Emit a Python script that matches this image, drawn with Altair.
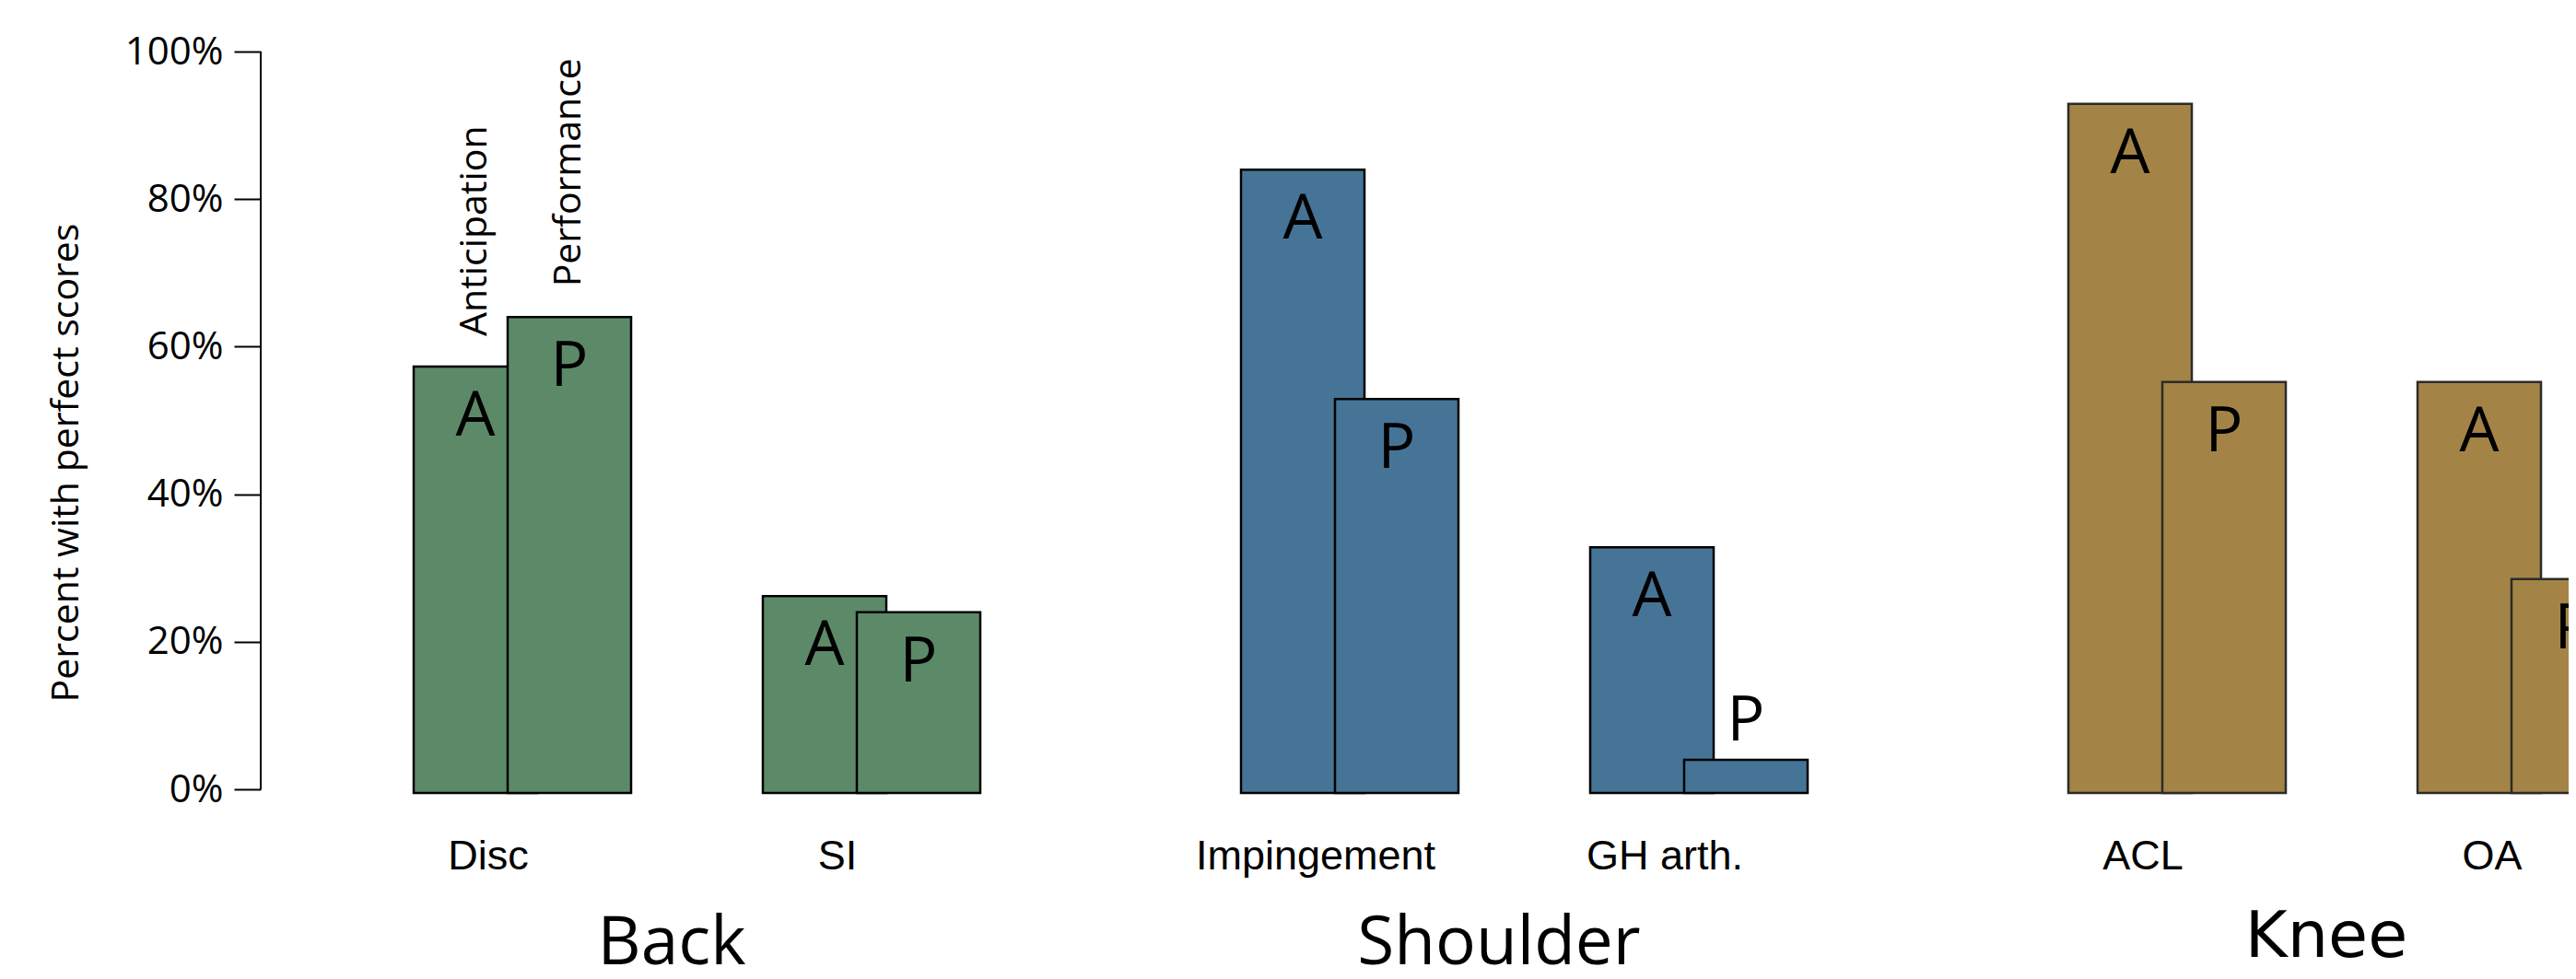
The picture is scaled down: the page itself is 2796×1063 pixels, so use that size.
import altair as alt
import pandas as pd

# ---------------- data ----------------
regions = ["Back", "Shoulder", "Knee"]
conditions = ["Disc", "SI", "Impingement", "GH arth.", "ACL", "OA"]
condition_region = ["Back", "Back", "Shoulder", "Shoulder", "Knee", "Knee"]
anticipation = [57.3, 26.2, 84.0, 32.8, 92.9, 55.2]
performance = [64.0, 24.0, 52.9, 4.0, 55.2, 28.5]
measures = ["Anticipation", "Performance"]
letters = ["A", "P"]
y_ticks = [0, 20, 40, 60, 80, 100]

# ---------------- styles ----------------
fills = ["#5C8A68", "#467497", "#A38446"]
strokes = ["#000000", "#000000", "#2B2B2B"]

# ---------------- layout ----------------
PLOT_W, PLOT_H = 2505, 1040
PAD_LEFT = 275
PX_PER_PCT = 8.01
ZERO_Y = 849
Y_MAX = ZERO_Y / PX_PER_PCT
Y_MIN = (ZERO_Y - PLOT_H) / PX_PER_PCT
FIRST_LEFT, GROUP_STEP, PAIR_STEP = 166, 898, 379
BAR_W, P_SHIFT = 134, 102

rows, labels = [], []
for i, cond in enumerate(conditions):
    g, c = divmod(i, 2)
    left = FIRST_LEFT + g * GROUP_STEP + c * PAIR_STEP
    for m, vals in enumerate([anticipation, performance]):
        x0 = left + m * P_SHIFT
        rows.append({
            "region": condition_region[i], "condition": cond,
            "measure": measures[m], "letter": letters[m],
            "value": vals[i], "x0": x0, "x1": x0 + BAR_W, "xc": x0 + BAR_W / 2,
        })
    labels.append({"condition": cond, "region": condition_region[i],
                   "xc": left + BAR_W / 2 + 14})
bars = pd.DataFrame(rows)
cond_labels = pd.DataFrame(labels)
group_labels = pd.DataFrame({
    "region": regions,
    "xc": [FIRST_LEFT + g * GROUP_STEP + 280 for g in range(len(regions))],
})

x_scale = alt.Scale(domain=[0, PLOT_W], range=[0, PLOT_W], nice=False, zero=False)
y_scale = alt.Scale(domain=[Y_MIN, Y_MAX], nice=False, zero=False)

y_axis = alt.Axis(
    values=y_ticks, labelExpr="datum.value + '%'", domain=False, grid=False,
    tickSize=29, tickWidth=2, tickColor="black",
    labelFont="Open Sans", labelFontSize=42, labelColor="black", labelPadding=12,
    labelFlush=False, labelOverlap=False,
    title="Percent with perfect scores", titleFont="Open Sans", titleFontSize=41,
    titleFontWeight="normal", titleColor="black", titleAngle=270,
    titleX=-199, titleY=494, titleAlign="center", titleBaseline="alphabetic",
)

fill_enc = alt.Fill("region:N", scale=alt.Scale(domain=regions, range=fills), legend=None)
stroke_enc = alt.Stroke("region:N", scale=alt.Scale(domain=regions, range=strokes), legend=None)

base = alt.Chart(bars)

def y_val():
    return alt.Y("value:Q", scale=y_scale, axis=y_axis)

def x_enc(field):
    return alt.X(field, scale=x_scale, axis=None)

def rect_layer(letter):
    return base.transform_filter(alt.datum.letter == letter).mark_rect(strokeWidth=2.5).encode(
        x=x_enc("x0:Q"),
        x2="x1:Q",
        y=y_val(),
        y2=alt.Y2Datum(-0.5),
        fill=fill_enc,
        stroke=stroke_enc,
    )

a_bars = rect_layer("A")
p_bars = rect_layer("P")

axis_line = alt.Chart(pd.DataFrame({"value": [0], "hi": [100]})).mark_rule(
    color="black", strokeWidth=2
).encode(
    x=alt.value(0),
    y=y_val(),
    y2="hi:Q",
)

letters_big = base.transform_filter(alt.datum.value >= 10).mark_text(
    font="Open Sans", fontSize=68, align="center", baseline="alphabetic", dy=75, color="black"
).encode(x=x_enc("xc:Q"), y=y_val(), text="letter:N")

letters_small = base.transform_filter(alt.datum.value < 10).mark_text(
    font="Open Sans", fontSize=68, align="center", baseline="alphabetic", dy=-21, color="black"
).encode(x=x_enc("xc:Q"), y=y_val(), text="letter:N")

measure_names = base.transform_filter(alt.datum.condition == "Disc").mark_text(
    font="Open Sans", fontSize=41, angle=270, align="left", baseline="alphabetic",
    dx=33, dy=12, color="black"
).encode(x=x_enc("xc:Q"), y=y_val(), text="measure:N")

cond_text = alt.Chart(cond_labels).mark_text(
    font="Liberation Sans", fontSize=45, align="center", baseline="alphabetic", dy=87, color="black"
).encode(
    x=x_enc("xc:Q"),
    y=alt.YDatum(0, scale=y_scale, axis=y_axis),
    text="condition:N",
)

group_text_a = alt.Chart(group_labels).transform_filter(alt.datum.region != "Knee").mark_text(
    font="Open Sans", fontSize=73, align="center", baseline="alphabetic", dy=190, color="black"
).encode(
    x=x_enc("xc:Q"),
    y=alt.YDatum(0, scale=y_scale, axis=y_axis),
    text="region:N",
)

group_text_b = alt.Chart(group_labels).transform_filter(alt.datum.region == "Knee").mark_text(
    font="DejaVu Sans", fontSize=70, align="center", baseline="alphabetic", dy=182, color="black"
).encode(
    x=x_enc("xc:Q"),
    y=alt.YDatum(0, scale=y_scale, axis=y_axis),
    text="region:N",
)

chart = alt.layer(
    a_bars, p_bars, axis_line, letters_big, letters_small, measure_names,
    cond_text, group_text_a, group_text_b,
).properties(
    width=PLOT_W, height=PLOT_H,
    padding={"left": PAD_LEFT, "top": 0, "right": 0, "bottom": 0},
    autosize=alt.AutoSizeParams(type="none"),
    background="white",
).configure_view(stroke=None)

chart.save("out.html", embed_options={"renderer": "svg", "actions": False})
